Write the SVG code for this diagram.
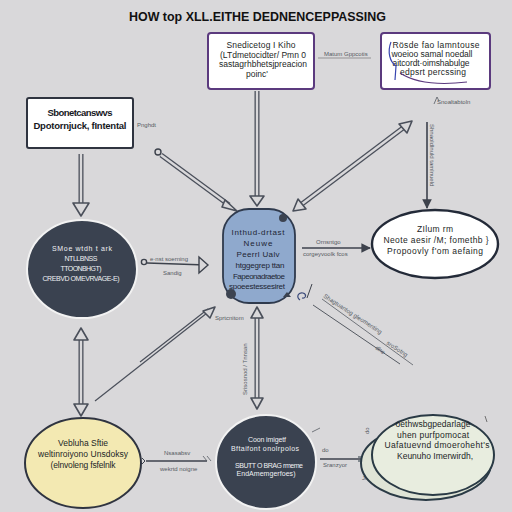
<svg xmlns="http://www.w3.org/2000/svg" width="512" height="512" viewBox="0 0 512 512">
<style>
text{font-family:"Liberation Sans",Arial,sans-serif}
.title{font-size:13px;font-weight:bold;fill:#111}
.bt{font-size:8.5px;fill:#1c1f26;text-anchor:middle}
.bb{font-size:9.5px;font-weight:bold;fill:#16181d;text-anchor:middle}
.wt{font-size:7px;fill:#eef0f3;text-anchor:middle}
.pt{font-size:8px;fill:#1e2533;text-anchor:middle}
.lb{font-size:6px;fill:#555a62}
.sh{fill:none;stroke:#4a4f5a;stroke-width:5}
.si{fill:none;stroke:#d9d8da;stroke-width:2.4}
.hd{fill:#d9d8da;stroke:#4a4f5a;stroke-width:1.6;stroke-linejoin:round}
.thin{fill:none;stroke:#3d424c;stroke-width:1.6}
</style>
<defs>
<marker id="ah" viewBox="0 0 10 10" refX="9" refY="5" markerWidth="6" markerHeight="6" orient="auto">
<path d="M0,0 L10,5 L0,10 z" fill="#3d424c"/>
</marker>
</defs>
<rect width="512" height="512" fill="#d9d8da"/>
<text class="title" x="129" y="21" textLength="257" lengthAdjust="spacingAndGlyphs">HOW top XLL.EITHE DEDNENCEPPASSING</text>

<g id="connectors">
  <!-- left box to left circle -->
  <path class="sh" d="M81,154 V206"/><path class="si" d="M81,154 V206"/>
  <path class="hd" d="M73,203 H89 L81,216 Z"/>
  <!-- top box to pill -->
  <path class="sh" d="M257,91 V198"/><path class="si" d="M257,91 V198"/>
  <path class="hd" d="M250,196 H264 L257,206 Z"/>
  <!-- left box area to pill -->
  <circle cx="158" cy="152" r="3" fill="none" stroke="#3d424c" stroke-width="1.4"/>
  <path class="sh" d="M161,155 L229,205"/><path class="si" d="M161,155 L229,205"/>
  <path class="hd" d="M225,200 L237,211 L222,207 Z"/>
  <!-- double headed diagonal top-right -->
  <path class="sh" d="M403,128 L302,204"/><path class="si" d="M403,128 L302,204"/>
  <path class="hd" d="M412,121 L407,133 L399,124 Z"/>
  <path class="hd" d="M293,211 L298,199 L306,209 Z"/>
  <!-- thin vertical to right ellipse -->
  <path class="thin" d="M427,122 V208" stroke-width="0.9" marker-end="url(#ah)"/>
  <text class="lb" transform="translate(430,124) rotate(90)" font-size="5">Shnaoldlnuld  tamlnueld</text>
  <text class="lb" x="437" y="104">Snoaltabtoln</text>
  <path d="M434,104 L437,97 L439,101" fill="none" stroke="#555a62" stroke-width="0.8"/>
  <!-- left circle to pill -->
  <circle cx="144" cy="262" r="2.6" fill="none" stroke="#3d424c" stroke-width="1.4"/>
  <path class="thin" d="M147,263 L206,265"/>
  <path d="M199,257 L208,265 L199,273 Z" fill="#d9d8da" stroke="#3d424c" stroke-width="1.4"/>
  <text class="lb" x="150" y="261">e·nst soerning</text>
  <text class="lb" x="163" y="275">Sandig</text>
  <!-- pill to right ellipse -->
  <path class="thin" d="M302,248 H370" marker-end="url(#ah)"/>
  <text class="lb" x="316" y="244">Ornsntgo</text>
  <text class="lb" x="303" y="256">corgeyvoolk fcos</text>
  <!-- diagonal lower right -->
  <path d="M300,300 c-4,-3 -2,-8 3,-7 c4,1 3,6 -1,5" fill="none" stroke="#3b4a7a" stroke-width="1.2"/>
  <path d="M307,298 L312,284" fill="none" stroke="#3d424c" stroke-width="1"/>
  <path d="M313,305 L400,364" fill="none" stroke="#555a62" stroke-width="1"/>
  <path d="M322,299 L413,365" fill="none" stroke="#555a62" stroke-width="0.8"/>
  <text class="lb" transform="translate(323,297) rotate(33)">Shagtuantog gleomenting</text>
  <text class="lb" transform="translate(386,344) rotate(33)">sroSotng</text>
  <text class="lb" transform="translate(375,349) rotate(33)">dhe</text>
  <!-- left circle to yellow -->
  <path class="sh" d="M81,337 V407"/><path class="si" d="M81,337 V407"/>
  <path class="hd" d="M74,340 H88 L81,328 Z"/>
  <path class="hd" d="M74,404 H88 L81,416 Z"/>
  <!-- yellow to pill -->
  <path d="M95,401 L207,313" fill="none" stroke="#4a4f5a" stroke-width="1.2"/>
  <path d="M140,362 L208,309" fill="none" stroke="#4a4f5a" stroke-width="1.2"/>
  <path class="hd" d="M215,307 L203,311 L210,318 Z"/>
  <text class="lb" x="215" y="320">Sprtcnitom</text>
  <!-- pill to bottom circle -->
  <path class="sh" d="M257,316 V400"/><path class="si" d="M257,316 V400"/>
  <path class="hd" d="M251,318 H263 L257,307 Z"/>
  <path class="hd" d="M251,398 H263 L257,409 Z"/>
  <text class="lb" transform="translate(247,395) rotate(-90)">Srisosnod / Tnnsan</text>
  <!-- yellow to bottom circle -->
  <path class="thin" d="M146,461 H207" stroke-width="1.2"/>
  <path d="M142,458 l3,3 l-3,3" fill="none" stroke="#3d424c" stroke-width="1"/>
  <path d="M203,456 l4,5 M207,456 l4,5" stroke="#555a62" stroke-width="0.8"/>
  <text class="lb" x="164" y="455">Nsasabsv</text>
  <text class="lb" x="160" y="471">wekrtd noigne</text>
  <!-- bottom circle to bottom right -->
  <path class="thin" d="M320,459 H362" stroke-width="1.4"/>
  <path d="M358,457 H370 M358,461 H370" stroke="#2a3a45" stroke-width="1"/>
  <text class="lb" x="323" y="467">Sranzyor</text>
  <text class="lb" x="322" y="452">do</text>
  <path d="M312,432 L320,428" stroke="#555a62" stroke-width="0.8"/>
  <text class="lb" x="362" y="480">Jhn</text>
  <text class="lb" transform="translate(369,434) rotate(-90)">do</text>
</g>

<g id="node-top-center">
  <rect x="208" y="33" width="106" height="56" rx="3" fill="#fff" stroke="#5b3a7e" stroke-width="2"/>
  <text class="bt" x="261" y="48" textLength="69">Snedicetog I Kiho</text>
  <text class="bt" x="263" y="58" textLength="86">(LTdmetocidter/ Pmn 0</text>
  <text class="bt" x="263" y="67" textLength="88">sastagrhbhetsjpreacion</text>
  <text class="bt" x="257" y="77">poinc'</text>
  <text class="lb" x="324" y="56">Matum Gppcotis</text>
  <path d="M318,58 H371" stroke="#666" stroke-width="0.6"/>
</g>

<g id="node-top-right">
  <rect x="381" y="33" width="109" height="56" rx="3" fill="#fff" stroke="#5b3a7e" stroke-width="2"/>
  <text class="bt" x="436" y="48" textLength="87">Rösde fao lamntouse</text>
  <text class="bt" x="432" y="57" textLength="81">woeioo samal noedall</text>
  <text class="bt" x="431" y="66" textLength="77">aitcordt·oimshabulge</text>
  <text class="bt" x="433" y="75" textLength="66">edpsrt percssing</text>
  <path d="M391,42 C387,52 390,62 396,66 L395,80" fill="none" stroke="#3846b0" stroke-width="1.2"/>
  <path d="M400,73 C420,86 450,84 467,82" fill="none" stroke="#5b3a7e" stroke-width="1.1"/>
</g>

<g id="node-left-box">
  <rect x="27" y="98" width="106" height="50" rx="2" fill="#fff" stroke="#2f3440" stroke-width="2"/>
  <text class="bb" x="80" y="116" textLength="65">Sbonetcanswvs</text>
  <text class="bb" x="80" y="129" textLength="93">Dpotornjuck, fIntental</text>
  <text class="lb" x="137" y="127">Pnghdt</text>
</g>

<g id="node-left-circle">
  <ellipse cx="82" cy="269" rx="55" ry="49" fill="#3a4250" stroke="#f2f2f2" stroke-width="2"/>
  <text class="wt" x="82" y="251" textLength="60">SMoe wtdh t ark</text>
  <text class="wt" x="81" y="261" textLength="33">NTLLBNSS</text>
  <text class="wt" x="81" y="271" textLength="41">TTOONBHGT)</text>
  <text class="wt" x="81" y="281" textLength="77">CREBVD OMEVRVAGE-E)</text>
</g>

<g id="node-center">
  <rect x="223" y="209" width="72" height="94" rx="26" fill="#8fa9cd" stroke="#2f3a4d" stroke-width="1.8"/>
  <text class="pt" x="258" y="235" textLength="53">Inthud-drtast</text>
  <text class="pt" x="258" y="246" textLength="29">Neuwe</text>
  <text class="pt" x="258" y="257" textLength="43">Peerrl Ualv</text>
  <text class="pt" x="260" y="268" textLength="49">htggegrep ttan</text>
  <text class="pt" x="259" y="279" textLength="52">Fapeonadraetoe</text>
  <text class="pt" x="257" y="289" textLength="56">spoeestessesiret</text>
  <circle cx="283" cy="218" r="4" fill="#3c4350"/>
  <circle cx="231" cy="294" r="5" fill="#3c4350"/>
  <path d="M283,297 L287,292 L291,297 Z" fill="#3c4350"/>
</g>

<g id="node-right-ellipse">
  <ellipse cx="435" cy="244" rx="63" ry="34" fill="#fff" stroke="#232a38" stroke-width="2.4"/>
  <text class="bt" x="435" y="232" textLength="36" font-size="9">ZIlum rm</text>
  <text class="bt" x="436" y="243" textLength="105" font-size="9">Neote aesir /M; fomethb }</text>
  <text class="bt" x="435" y="254" textLength="96" font-size="9">Propoovly f'om aefaing</text>
</g>

<g id="node-yellow">
  <ellipse cx="83" cy="463" rx="58" ry="45" fill="#f3e9b2" stroke="#2f3440" stroke-width="2"/>
  <text class="bt" x="83" y="446" textLength="50">Vebluha Sftie</text>
  <text class="bt" x="83" y="457" textLength="90">weltinroiyono Unsdoksy</text>
  <text class="bt" x="83" y="468" textLength="65">(elnvoleng fsfelnlk</text>
</g>

<g id="node-bottom-circle">
  <ellipse cx="266" cy="462" rx="50" ry="47" fill="#3a4250" stroke="#f2f2f2" stroke-width="2"/>
  <text class="wt" x="267" y="442" textLength="38">Coon imigetf</text>
  <text class="wt" x="265" y="451" textLength="68">Bftaifont onolrpolos</text>
  <text class="wt" x="269" y="468" textLength="68">SBUTT O BRAG rmeme</text>
  <text class="wt" x="266" y="476" textLength="59">EndAmemgerfoes)</text>
</g>

<g id="node-bottom-right">
  <ellipse cx="426" cy="463" rx="65" ry="37" fill="#dfe4d6" stroke="#2a3a45" stroke-width="2"/>
  <ellipse cx="433" cy="455" rx="61" ry="40" fill="#e8eddf" stroke="#2a3a45" stroke-width="2"/>
  <text class="bt" x="433" y="427" textLength="75">oethwsbgpedarlage</text>
  <text class="bt" x="433" y="438" textLength="72">uhen purfpomocat</text>
  <text class="bt" x="437" y="448" textLength="105">Uafatuevnd dmoeroheht's</text>
  <text class="bt" x="435" y="459" textLength="76">Keunuho Imerwirdh,</text>
  <path d="M485,416 L487,422" stroke="#555" stroke-width="0.8"/>
</g>
</svg>
